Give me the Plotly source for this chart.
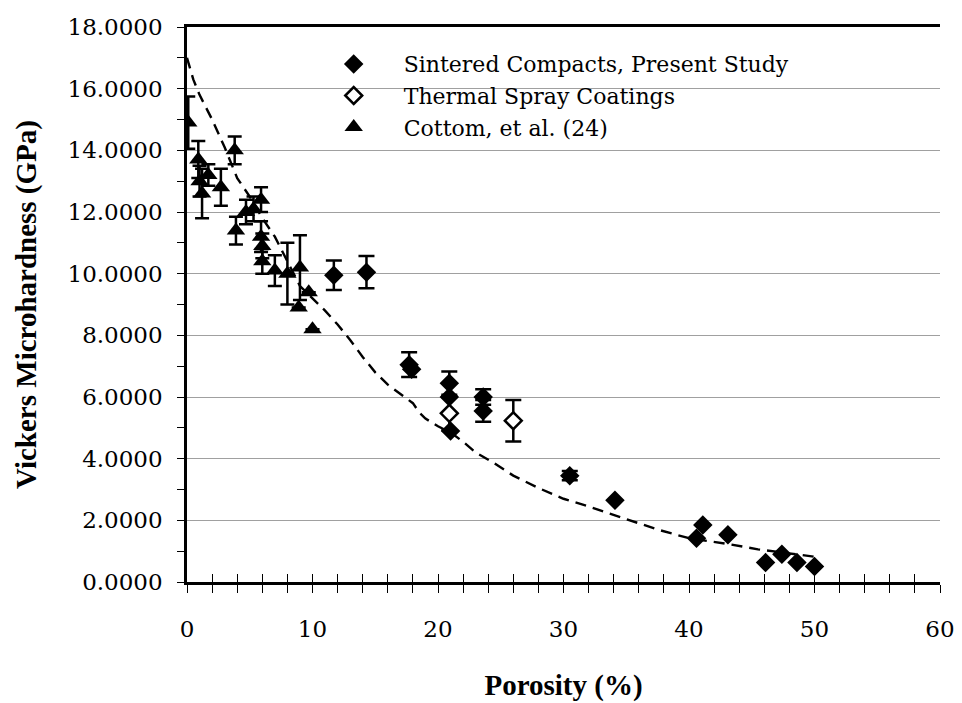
import plotly.graph_objects as go

# Cottom et al. (24) - filled triangles
cottom_x = [0.1, 0.9, 1.0, 1.2, 1.7, 2.7, 3.8, 3.9, 4.7, 5.3, 5.9, 5.9, 6.0, 6.0, 7.0, 8.0, 8.9, 9.0, 9.7, 10.0]
cottom_y = [14.9, 13.7, 13.0, 12.6, 13.2, 12.8, 14.0, 11.4, 12.0, 12.1, 12.4, 11.2, 10.9, 10.4, 10.1, 10.0, 8.9, 10.2, 9.4, 8.2]
cottom_err = [0.85, 0.6, 0.5, 0.8, 0.35, 0.6, 0.45, 0.45, 0.4, 0.4, 0.4, 0.5, 0.4, 0.4, 0.5, 1.0, 0.0, 1.05, 0.0, 0.0]

# Sintered compacts, present study - filled diamonds
sint_x = [11.7, 14.3, 17.7, 17.9, 20.9, 20.9, 21.0, 23.6, 23.6, 30.5, 34.1, 40.6, 41.1, 43.1, 46.1, 47.4, 48.6, 50.0]
sint_y = [9.95, 10.05, 7.05, 6.9, 6.45, 6.0, 4.9, 6.0, 5.55, 3.45, 2.65, 1.42, 1.85, 1.53, 0.63, 0.9, 0.63, 0.5]
sint_err = [0.48, 0.52, 0.4, 0.0, 0.38, 0.0, 0.0, 0.25, 0.35, 0.15, 0, 0, 0, 0, 0, 0, 0, 0]

# Thermal spray coatings - open diamonds
spray_x = [20.9, 26.0]
spray_y = [5.47, 5.23]
spray_err = [0.55, 0.67]

# Dashed fit curve
curve_x = [0, 0.5, 1, 1.5, 2, 3, 4, 5, 6, 7, 8, 9, 10, 11, 12, 13, 14, 15, 16, 17, 18, 18.5, 19, 20, 21, 22, 23,
           24.3, 26, 28, 30, 32, 35, 37.5, 40, 43, 45.5, 48, 50]
curve_y = [17.0, 16.3, 15.8, 15.4, 15.0, 14.1, 13.1, 12.5, 11.8, 11.2, 10.4, 9.6, 9.2, 8.8, 8.35, 7.85, 7.3, 6.8,
           6.4, 6.1, 5.8, 5.5, 5.3, 5.05, 4.85, 4.55, 4.2, 3.9, 3.45, 3.05, 2.7, 2.45, 2.05, 1.7, 1.42, 1.24,
           1.06, 0.93, 0.82]

x_ticks = [0, 10, 20, 30, 40, 50, 60]
y_ticks = [0, 2, 4, 6, 8, 10, 12, 14, 16, 18]

fig = go.Figure()

fig.add_trace(go.Scatter(
    x=curve_x, y=curve_y, mode="lines", showlegend=False,
    line=dict(color="black", width=2.4, dash="11px,7px"), hoverinfo="skip"))

fig.add_trace(go.Scatter(
    x=sint_x, y=sint_y, mode="markers", name="Sintered Compacts, Present Study",
    marker=dict(symbol="diamond", size=15, color="black"),
    error_y=dict(type="data", array=sint_err, visible=True, color="black", thickness=2.5, width=8)))

fig.add_trace(go.Scatter(
    x=spray_x, y=spray_y, mode="markers", name="Thermal Spray Coatings",
    marker=dict(symbol="diamond", size=13, color="white", line=dict(color="black", width=2.5)),
    error_y=dict(type="data", array=spray_err, visible=True, color="black", thickness=2.5, width=8)))

fig.add_trace(go.Scatter(
    x=cottom_x, y=cottom_y, mode="markers", name="Cottom, et al. (24)",
    marker=dict(symbol="triangle-up", size=16, color="black"),
    error_y=dict(type="data", array=cottom_err, visible=True, color="black", thickness=2.5, width=7)))

tickfont = dict(family="DejaVu Serif", size=23, color="black")
titlefont = dict(family="Liberation Serif", size=29, color="black")

# the page body has an 8px margin, so the figure is sized to fit the window
fig.update_layout(
    width=954, height=695,
    margin=dict(l=179, r=22, t=19, b=121),
    paper_bgcolor="white", plot_bgcolor="white",
    showlegend=True,
    legend=dict(x=0.155, y=0.971, xanchor="left", yanchor="top",
                font=dict(family="DejaVu Serif", size=22, color="black"),
                bgcolor="rgba(0,0,0,0)", itemwidth=90, tracegroupgap=0),
    xaxis=dict(range=[0, 60], tickvals=x_ticks, ticktext=[str(v) for v in x_ticks],
               showgrid=False, zeroline=False, showline=True, linecolor="black", linewidth=2.5,
               ticks="outside", ticklen=8, tickwidth=1.2, tickcolor="black",
               minor=dict(dtick=2, ticks="outside", ticklen=8, tickwidth=1.2, tickcolor="black"),
               tickfont=tickfont, ticklabelstandoff=17, automargin=False,
               title=dict(text="<b>Porosity (%)</b>", font=titlefont, standoff=34)),
    xaxis2=dict(range=[0, 60], overlaying="x", side="bottom", showgrid=False, zeroline=False,
                showline=False, ticks="inside", ticklen=8, tickwidth=1.2, tickcolor="black",
                tickvals=list(range(0, 61, 2)), showticklabels=False, automargin=False),
    xaxis3=dict(range=[0, 60], overlaying="x", side="top", showgrid=False, zeroline=False,
                showline=True, linecolor="black", linewidth=2.5, ticks="", showticklabels=False,
                automargin=False),
    yaxis=dict(range=[0, 18], tickvals=y_ticks, tickformat=".4f",
               showgrid=True, gridcolor="#a0a0a0", gridwidth=1.2, zeroline=False,
               showline=True, linecolor="black", linewidth=2.5,
               ticks="outside", ticklen=7, tickwidth=1.2, tickcolor="black",
               minor=dict(dtick=1, ticks="outside", ticklen=7, tickwidth=1.2, tickcolor="black",
                          showgrid=False),
               tickfont=tickfont, ticklabelstandoff=10, automargin=False,
               title=dict(text="<b>Vickers Microhardness (GPa)</b>", font=titlefont, standoff=23)),
)

# invisible helper traces so the overlay axes are drawn
fig.add_trace(go.Scatter(x=[None], y=[None], xaxis="x2", showlegend=False, hoverinfo="skip"))
fig.add_trace(go.Scatter(x=[None], y=[None], xaxis="x3", showlegend=False, hoverinfo="skip"))

fig.write_html("out.html")
